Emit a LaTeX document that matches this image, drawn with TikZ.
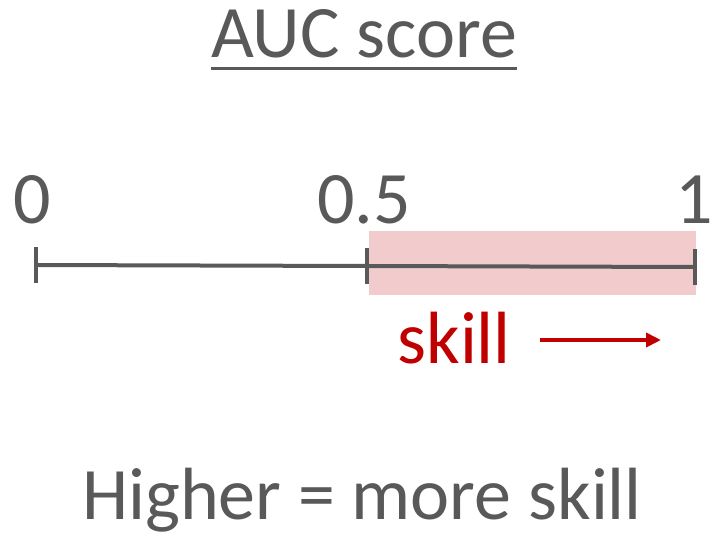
\documentclass[tikz,border=0pt]{standalone}
\usepackage{fontspec}
\setmainfont{Carlito}
\usetikzlibrary{arrows.meta}
\pgfdeclarelayer{edgelayer}
\pgfdeclarelayer{nodelayer}
\pgfsetlayers{edgelayer,nodelayer,main}
\definecolor{axisgray}{HTML}{595959}
\definecolor{skillred}{HTML}{C00000}
\definecolor{skillpink}{HTML}{F2CCCC}
\tikzset{font=\fontsize{37}{40}\selectfont}
\tikzstyle{none}=[inner sep=0pt]
\tikzstyle{label}=[inner sep=0pt,anchor=base,text=axisgray]
\tikzstyle{axis}=[axisgray,line width=2pt]

\begin{document}
\begin{tikzpicture}[x=0.5pt,y=-0.5pt]
	\useasboundingbox (0,0) rectangle (713,536);
	\begin{pgfonlayer}{nodelayer}
		\node [style=label] (title) at (364, 57) {AUC score};
		\node [style=label] (0) at (32, 223) {0};
		\node [style=label] (05) at (364, 223) {0.5};
		\node [style=label] (1) at (694, 223) {1};
		\node [style=none] (a) at (36, 265) {};
		\node [style=none] (b) at (367, 266) {};
		\node [style=none] (c) at (695, 267) {};
		\node [style=none, anchor=base west, text=skillred] (skill) at (397, 363) {skill};
		\coordinate (s) at (540, 340);
		\coordinate (t) at (661, 340);
		\node [style=label] (bottom) at (362, 519) {Higher = more skill};
	\end{pgfonlayer}
	\begin{pgfonlayer}{edgelayer}
		\fill[skillpink] (369, 231) rectangle (696, 295);
	\end{pgfonlayer}
	\draw[axisgray, line width=1.5pt] ([yshift=-5.5pt]title.base west) to ([yshift=-5.5pt]title.base east);
	\draw[style=axis] (a.center) to (b.center) to (c.center);
	\draw[style=axis] ([yshift=-9pt]a.center) to ([yshift=9pt]a.center);
	\draw[style=axis] ([yshift=-9pt]b.center) to ([yshift=9pt]b.center);
	\draw[style=axis] ([yshift=-9pt]c.center) to ([yshift=9pt]c.center);
	\draw[skillred, line width=2pt, -{Triangle[length=15*0.5pt, width=14*0.5pt]}] (s) to (t);
\end{tikzpicture}
\end{document}
